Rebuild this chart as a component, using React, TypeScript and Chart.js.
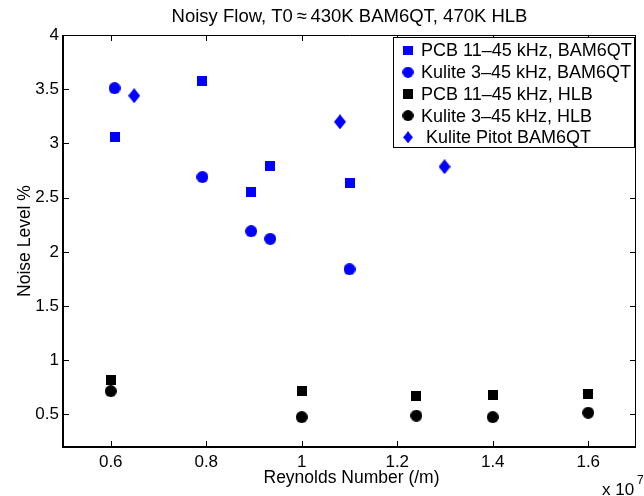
import React, { useEffect, useRef } from "react";
import { Chart, registerables } from "chart.js";

Chart.register(...registerables);

const chartTitle = "Noisy Flow, T0\u2009\u2248\u2009430K BAM6QT, 470K HLB";
const xAxisTitle = "Reynolds Number (/m)";
const xAxisMultiplier = "x 10";
const xAxisExponent = "7";
const yAxisTitle = "Noise Level %";

// Reynolds number in units of 1e7 per metre
const xTicks = [0.6, 0.8, 1.0, 1.2, 1.4, 1.6];
const yTicks = [0.5, 1, 1.5, 2, 2.5, 3, 3.5, 4];
const xMin = 0.5;
const xMax = 1.7;
const yMin = 0.2;
const yMax = 4;

const pcbBamRe = [0.608, 0.792, 0.894, 0.934, 1.1];
const pcbBamNoise = [3.055, 3.576, 2.55, 2.79, 2.632];
const kuliteBamRe = [0.608, 0.792, 0.894, 0.934, 1.1];
const kuliteBamNoise = [3.51, 2.69, 2.19, 2.12, 1.84];
const pcbHlbRe = [0.6, 1.0, 1.24, 1.4, 1.6];
const pcbHlbNoise = [0.822, 0.715, 0.666, 0.678, 0.691];
const kuliteHlbRe = [0.6, 1.0, 1.24, 1.4, 1.6];
const kuliteHlbNoise = [0.715, 0.476, 0.489, 0.476, 0.516];
const pitotBamRe = [0.649, 1.08, 1.299];
const pitotBamNoise = [3.44, 3.199, 2.785];

const seriesLabels = [
  "PCB 11\u201345 kHz, BAM6QT",
  "Kulite 3\u201345 kHz, BAM6QT",
  "PCB 11\u201345 kHz, HLB",
  "Kulite 3\u201345 kHz, HLB",
  " Kulite Pitot BAM6QT",
];
const seriesColors = ["#0000ff", "#0000ff", "#000000", "#000000", "#0000ff"];
const seriesShapes = ["square", "circle", "square", "circle", "diamond"];

const FONT = '"Liberation Sans", Arial, Helvetica, sans-serif';

function makeMarker(shape: string, color: string): HTMLCanvasElement {
  let w = 10, h = 10;
  if (shape === "circle") { w = 12; h = 12; }
  if (shape === "diamond") { w = 12; h = 15; }
  const c = document.createElement("canvas");
  c.width = w;
  c.height = h;
  const g = c.getContext("2d")!;
  g.fillStyle = color;
  g.beginPath();
  if (shape === "square") g.rect(0, 0, w, h);
  else if (shape === "circle") g.ellipse(w / 2, h / 2, w / 2, h / 2, 0, 0, Math.PI * 2);
  else {
    g.moveTo(w / 2, 0);
    g.lineTo(w, h / 2);
    g.lineTo(w / 2, h);
    g.lineTo(0, h / 2);
    g.closePath();
  }
  g.fill();
  return c;
}

const fmt = (v: any) => String(Number(Number(v).toFixed(3)));

export default function App() {
  const ref = useRef<HTMLCanvasElement>(null);

  useEffect(() => {
    if (!ref.current) return;
    const markers = seriesShapes.map((s, i) => makeMarker(s, seriesColors[i]));
    const xs = [pcbBamRe, kuliteBamRe, pcbHlbRe, kuliteHlbRe, pitotBamRe];
    const ys = [pcbBamNoise, kuliteBamNoise, pcbHlbNoise, kuliteHlbNoise, pitotBamNoise];

    const datasets = seriesLabels.map((label, i) => ({
      label,
      data: xs[i].map((x, j) => ({ x, y: ys[i][j] })),
      pointStyle: markers[i] as any,
      pointRadius: 7,
      backgroundColor: seriesColors[i],
      borderColor: seriesColors[i],
      showLine: false,
    }));

    const decorPlugin = {
      id: "decor",
      afterDraw(chart: any) {
        const { ctx, chartArea: a, scales } = chart;
        const xs = scales.x, ys = scales.y;
        ctx.save();
        ctx.strokeStyle = "#000";
        ctx.fillStyle = "#000";
        // ticks (inward, all four sides)
        ctx.lineWidth = 1;
        ctx.beginPath();
        const tl = 6;
        xTicks.forEach((v) => {
          const px = Math.round(xs.getPixelForValue(v)) + 0.5;
          ctx.moveTo(px, a.bottom);
          ctx.lineTo(px, a.bottom - tl);
          ctx.moveTo(px, a.top);
          ctx.lineTo(px, a.top + tl);
        });
        yTicks.forEach((v) => {
          const py = Math.round(ys.getPixelForValue(v)) + 0.5;
          ctx.moveTo(a.left, py);
          ctx.lineTo(a.left + tl, py);
          ctx.moveTo(a.right, py);
          ctx.lineTo(a.right - tl, py);
        });
        ctx.stroke();
        // frame
        ctx.beginPath();
        ctx.moveTo(a.left, a.top + 0.5);
        ctx.lineTo(a.right, a.top + 0.5);
        ctx.moveTo(a.right - 0.5, a.top);
        ctx.lineTo(a.right - 0.5, a.bottom);
        ctx.stroke();
        ctx.lineWidth = 2;
        ctx.beginPath();
        ctx.moveTo(a.left, a.top);
        ctx.lineTo(a.left, a.bottom);
        ctx.lineTo(a.right, a.bottom);
        ctx.stroke();

        // legend
        const lgLeft = 393, lgTop = a.top + 2, lgRight = a.right - 1, rowH = 21.7;
        const lgBottom = lgTop + rowH * seriesLabels.length + 2.5;
        ctx.fillStyle = "#fff";
        ctx.fillRect(lgLeft, lgTop, lgRight - lgLeft, lgBottom - lgTop);
        ctx.lineWidth = 1;
        ctx.strokeStyle = "#000";
        ctx.strokeRect(lgLeft + 0.5, lgTop + 0.5, lgRight - lgLeft - 1, lgBottom - lgTop - 1);
        ctx.font = `18px ${FONT}`;
        ctx.textAlign = "left";
        ctx.textBaseline = "middle";
        seriesLabels.forEach((lab, i) => {
          const cy = lgTop + 13.5 + rowH * i;
          const m = markers[i];
          const scale = seriesShapes[i] === "diamond" ? 0.8 : 0.92;
          const mw = m.width * scale, mh = m.height * scale;
          ctx.drawImage(m, 408 - mw / 2, cy - mh / 2, mw, mh);
          ctx.fillStyle = "#000";
          ctx.fillText(lab, 421, cy + 1);
        });

        // titles
        ctx.fillStyle = "#000";
        ctx.textBaseline = "alphabetic";
        ctx.textAlign = "center";
        const cx = (a.left + a.right) / 2;
        ctx.font = `18.5px ${FONT}`;
        ctx.fillText(chartTitle, cx, 22);
        ctx.font = `17.5px ${FONT}`;
        ctx.fillText(xAxisTitle, cx + 2, 483);
        ctx.textAlign = "left";
        ctx.font = `17px ${FONT}`;
        ctx.fillText(xAxisMultiplier, 602, 495);
        ctx.font = `12px ${FONT}`;
        ctx.fillText(xAxisExponent, 637, 484);
        ctx.save();
        ctx.translate(29.5, (a.top + a.bottom) / 2);
        ctx.rotate(-Math.PI / 2);
        ctx.textAlign = "center";
        ctx.font = `17.5px ${FONT}`;
        ctx.fillText(yAxisTitle, 0, 0);
        ctx.restore();
        ctx.restore();
      },
    };

    const tickFont = { family: FONT, size: 17 };
    const chart = new Chart(ref.current, {
      type: "scatter",
      data: { datasets },
      options: {
        responsive: false,
        animation: false,
        layout: { padding: { top: 35, right: 3, left: 0, bottom: 0 } },
        plugins: {
          legend: { display: false },
          title: { display: false },
          tooltip: { enabled: false },
        },
        scales: {
          x: {
            type: "linear",
            min: xMin,
            max: xMax,
            afterFit: (s: any) => {
              s.height = 49;
              s.paddingLeft = 0;
              s.paddingRight = 0;
            },
            afterBuildTicks: (s: any) => { s.ticks = xTicks.map((v) => ({ value: v })); },
            grid: { display: false, drawTicks: false },
            border: { display: false },
            ticks: { padding: 5, color: "#000", font: tickFont, maxRotation: 0, autoSkip: false, callback: fmt },
          },
          y: {
            type: "linear",
            min: yMin,
            max: yMax,
            afterFit: (s: any) => {
              s.width = 63;
              s.paddingTop = 0;
              s.paddingBottom = 0;
            },
            afterBuildTicks: (s: any) => { s.ticks = yTicks.map((v) => ({ value: v })); },
            grid: { display: false, drawTicks: false },
            border: { display: false },
            ticks: { padding: 4, color: "#000", font: tickFont, autoSkip: false, callback: fmt },
          },
        },
      } as any,
      plugins: [decorPlugin],
    });
    return () => chart.destroy();
  }, []);

  return (
    <div style={{ position: "absolute", left: 0, top: 0, width: 644, height: 496, background: "#fff" }}>
      <canvas ref={ref} width={644} height={496} style={{ display: "block" }} />
    </div>
  );
}
